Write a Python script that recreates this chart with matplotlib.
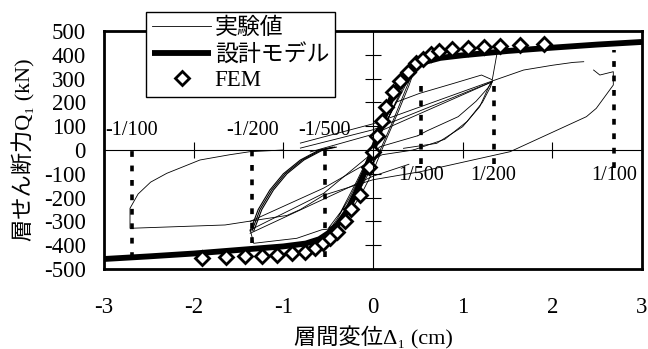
import matplotlib
matplotlib.use('Agg')
import matplotlib.pyplot as plt
from matplotlib.font_manager import FontProperties
from matplotlib.lines import Line2D

plt.rcParams['axes.unicode_minus'] = False
FAM = ['Liberation Serif', 'Noto Sans CJK JP', 'DejaVu Sans']

# ---------------- data ----------------
design_x = [-3.0, -2.5, -2.0, -1.5, -1.0, -0.75, -0.6, -0.5, -0.4, -0.3, -0.2, -0.1, 0.0,
            0.1, 0.2, 0.3, 0.4, 0.5, 0.6, 0.75, 1.0, 1.5, 2.0, 2.5, 3.0]
design_y = [-458, -447, -435, -420, -405, -393, -375, -350, -315, -262, -188, -100, 0,
            110, 215, 283, 328, 355, 372, 387, 398, 416, 430, 443, 454]

fem_x = [-1.91, -1.64, -1.43, -1.24, -1.07, -0.90, -0.76, -0.65, -0.56, -0.48, -0.40, -0.31,
         -0.24, -0.15, -0.05, 0.0, 0.05, 0.10, 0.15, 0.22, 0.30, 0.39, 0.48, 0.56, 0.65,
         0.74, 0.88, 1.06, 1.24, 1.42, 1.64, 1.91]
fem_y = [-455, -451, -445, -444, -441, -434, -427, -413, -392, -371, -343, -297,
         -249, -189, -70, -7, 59, 122, 179, 245, 290, 329, 364, 381, 402,
         416, 423, 430, 434, 437, 441, 445]

# experimental hysteresis (thin line), several traced branches
exp_small_x = [0.0, 0.05, 0.15, 0.27, 0.38, 0.49, 0.40, 0.27, 0.12, 0.0, -0.15, -0.30, -0.42, -0.48,
               -0.40, -0.26, -0.10, 0.05, 0.20, 0.33, 0.47, 0.36, 0.22, 0.08, -0.08, -0.25, -0.40, -0.50,
               -0.36, -0.18, 0.0, 0.18, 0.36, 0.50]
exp_small_y = [0, 45, 150, 240, 320, 365, 270, 150, 20, -90, -200, -280, -320, -332,
               -290, -200, -80, 40, 160, 260, 350, 250, 120, 0, -120, -240, -305, -330,
               -260, -130, 10, 140, 270, 360]

exp_first_pos_x = [0.25, 0.52, 0.90, 1.21, 1.33, 1.38]
exp_first_pos_y = [200, 238, 280, 315, 295, 400]

exp_first_neg_x = [-0.48, -0.57, -0.85, -1.33, -1.37]
exp_first_neg_y = [-332, -335, -371, -392, -336]

exp_unload_pos_x = [[1.33, 0.0, -0.81], [1.33, 0.0, -0.81], [1.32, 0.0, -0.70]]
exp_unload_pos_y = [[290, 110, 29], [287, 85, 8], [285, 66, -8]]

exp_reload_neg_x = [-0.45, -0.60, -0.81, -1.00, -1.15, -1.28, -1.37]
exp_reload_neg_y = [12, 0, -42, -100, -168, -250, -340]

exp_unload_neg_x = [[-1.37, -0.55, 0.08, 0.50], [-1.37, -0.55, 0.10, 0.45], [-1.37, -0.60, 0.0, 0.40]]
exp_unload_neg_y = [[-336, -182, 14, 60], [-300, -160, -20, 0], [-350, -215, -110, -60]]

exp_reload_pos_x = [[0.34, 0.71, 1.00, 1.19, 1.30, 1.33], [0.45, 0.80, 1.05, 1.22, 1.31, 1.33],
                    [0.50, 0.60, 0.95, 1.15, 1.28, 1.33]]
exp_reload_pos_y = [[7, 28, 98, 182, 273, 290], [0, 45, 120, 200, 265, 288],
                    [60, 80, 140, 205, 260, 286]]

exp_big_x = [1.33, 1.68, 2.00, 2.23, 2.35]
exp_big_y = [290, 336, 356, 368, 371]
exp_big2_x = [2.46, 2.53, 2.68, 2.68, 2.49, 2.38, 1.53, 0.53, 0.0, -0.55, -0.81, -0.96, -1.65,
              -2.71, -2.71, -2.62, -2.48, -2.30, -1.93, -1.60, -1.37, -1.0]
exp_big2_y = [336, 315, 329, 273, 175, 140, -7, -91, -125, -190, -250, -275, -315,
              -329, -245, -185, -135, -98, -42, -20, -7, 0]

drift_x = [-2.69, -1.345, -0.538, 0.538, 1.345, 2.69]
drift_top = [30, 30, 30, 290, 300, 420]
drift_bottom = [-455, -390, -450, -60, -60, -75]
drift_labels = ['-1/100', '-1/200', '-1/500', '1/500', '1/200', '1/100']
label_y = [80, 80, 80, -109, -109, -109]

yticks = [-500, -400, -300, -200, -100, 0, 100, 200, 300, 400, 500]
xticks = [-3, -2, -1, 0, 1, 2, 3]

# ---------------- figure ----------------
fig = plt.figure(figsize=(6.48, 3.49), dpi=100)
pos = [104/648, 1-269/349, 538/648, 238/349]
ax = fig.add_axes(pos)
ax.set_xlim(-3, 3)
ax.set_ylim(-500, 500)

thin = dict(color='k', lw=0.6, solid_joinstyle='round')
ax.plot(exp_small_x, exp_small_y, **thin)
ax.plot(exp_first_pos_x, exp_first_pos_y, **thin)
ax.plot(exp_first_neg_x, exp_first_neg_y, **thin)
for xs, ys in zip(exp_unload_pos_x, exp_unload_pos_y):
    ax.plot(xs, ys, **thin)
for dx in (0.0, 0.02, 0.04):
    ax.plot([x + dx for x in exp_reload_neg_x], exp_reload_neg_y, color='k', lw=0.8)
for xs, ys in zip(exp_unload_neg_x, exp_unload_neg_y):
    ax.plot(xs, ys, **thin)
for xs, ys in zip(exp_reload_pos_x, exp_reload_pos_y):
    ax.plot(xs, ys, **thin)
ax.plot(exp_big_x, exp_big_y, **thin)
ax.plot(exp_big2_x, exp_big2_y, **thin)

ax.vlines(drift_x, drift_bottom, drift_top, colors='k', linestyles=(0, (1.6, 2.4)), lw=2.6)
for x, y, s in zip(drift_x, label_y, drift_labels):
    ax.text(x, y, s, ha='center', va='center', fontsize=14.5, family=FAM)

line_design, = ax.plot(design_x, design_y, color='k', lw=4.2, solid_capstyle='butt')
pts_fem, = ax.plot(fem_x, fem_y, ls='none', marker='D', ms=7.2, mfc='white', mec='k', mew=2.0)

ax.set_xticks(xticks)
ax.set_yticks(yticks)
ax.set_xticklabels([str(v) for v in xticks], family=FAM, fontsize=16.5)
ax.set_yticklabels([str(v) for v in yticks], family=FAM, fontsize=16.5)
ax.tick_params(length=0)
ax.tick_params(axis='x', pad=20)
ax.tick_params(axis='y', pad=13)
for s in ax.spines.values():
    s.set_linewidth(2.0)

ax.set_xlabel('層間変位Δ\u2081 (cm)', family=FAM, fontsize=16, labelpad=6)
ax.set_ylabel('層せん断力Q\u2081 (kN)', family=FAM, fontsize=16, labelpad=6)

# zero axes with cross ticks
ax2 = fig.add_axes(pos)
ax2.set_xlim(-3, 3)
ax2.set_ylim(-500, 500)
ax2.patch.set_visible(False)
for k in ('top', 'right'):
    ax2.spines[k].set_visible(False)
ax2.spines['left'].set_position(('data', 0))
ax2.spines['bottom'].set_position(('data', 0))
for k in ('left', 'bottom'):
    ax2.spines[k].set_linewidth(0.8)
ax2.set_xticks([-2, -1, 1, 2])
ax2.set_yticks([-400, -300, -200, -100, 100, 200, 300, 400])
ax2.tick_params(direction='inout', length=12, width=0.8, labelleft=False, labelbottom=False)

# legend
h_exp = Line2D([], [], color='k', lw=0.6)
leg = fig.legend([h_exp, line_design, pts_fem], ['実験値', '設計モデル', 'FEM'],
                 loc='upper left', bbox_to_anchor=(146/648, 1-12/349), borderaxespad=0,
                 prop=FontProperties(family=FAM, size=16.5), frameon=True, fancybox=False,
                 edgecolor='k', framealpha=1, handlelength=2.6, handletextpad=0.15,
                 labelspacing=0.2, borderpad=0.25)
leg.get_frame().set_linewidth(1.0)

fig.savefig('out.png', dpi=100)
